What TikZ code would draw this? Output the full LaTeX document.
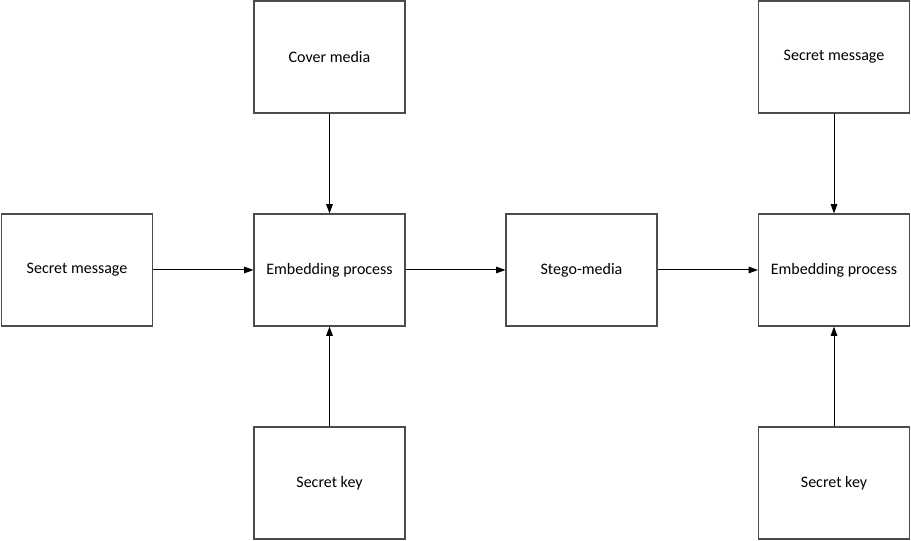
\documentclass[tikz,border=0pt]{standalone}
\usepackage{fontspec}
\setmainfont{Carlito}
\usetikzlibrary{arrows.meta}
\begin{document}
\begin{tikzpicture}[x=0.75pt,y=-0.75pt,
  box/.style={draw=black!70,line width=0.9pt,minimum width=113.25pt,minimum height=84pt,inner sep=0pt,font=\fontsize{12}{14}\selectfont,fill=white},
  arr/.style={-{Triangle[length=7pt,width=5pt]},line width=0.75pt,black}]
\useasboundingbox (0,0) rectangle (911,541);
\node[box] (cover) at (329.5,57) {\raisebox{-1pt}{Cover media}};
\node[box] (smr) at (834,57) {\raisebox{-1pt}{Secret message}};
\node[box] (sml) at (77,270) {\raisebox{-1pt}{Secret message}};
\node[box] (emb) at (329.5,270) {\raisebox{-1pt}{Embedding process}};
\node[box] (stego) at (581.5,270) {\raisebox{-1pt}{Stego-media}};
\node[box] (embr) at (834,270) {\raisebox{-1pt}{Embedding process}};
\node[box] (key) at (329.5,483) {\raisebox{-1pt}{Secret key}};
\node[box] (keyr) at (834,483) {\raisebox{-1pt}{Secret key}};
\draw[arr] (cover) -- (emb);
\draw[arr] (sml) -- (emb);
\draw[arr] (key) -- (emb);
\draw[arr] (emb) -- (stego);
\draw[arr] (stego) -- (embr);
\draw[arr] (smr) -- (embr);
\draw[arr] (keyr) -- (embr);
\end{tikzpicture}
\end{document}
